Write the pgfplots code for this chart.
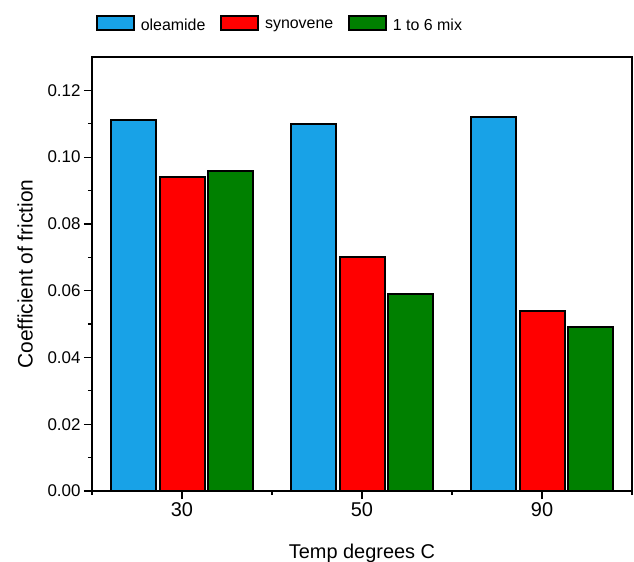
\documentclass[border=0pt]{standalone}
\usepackage{fontspec}
\setmainfont{Liberation Sans}
\usepackage{pgfplots}
\pgfplotsset{compat=1.18}
\definecolor{cblue}{RGB}{24,162,231}
\definecolor{cred}{RGB}{255,0,0}
\definecolor{cgreen}{RGB}{0,128,0}
\begin{document}
\begin{tikzpicture}
\path[use as bounding box] (0,0) rectangle (634bp,562bp);
\begin{axis}[
  at={(92bp,71bp)}, anchor=south west,
  width=540bp, height=434bp, scale only axis=true,
  xmin=0.5, xmax=3.5, ymin=0, ymax=0.13,
  axis line style={line width=1.4bp},
  every tick/.style={black, line width=1.2bp},
  tick align=outside,
  major tick length=8bp, minor tick length=4bp,
  xtick={1,2,3}, xticklabels={30,50,90},
  minor xtick={0.5,1.5,2.5,3.5},
  ytick={0,0.02,0.04,0.06,0.08,0.10,0.12},
  minor ytick={0.01,0.03,0.05,0.07,0.09,0.11},
  xtick pos=bottom, ytick pos=left,
  /pgf/number format/assume math mode=true,
  yticklabel style={font=\fontsize{17}{17}\selectfont, /pgf/number format/.cd, fixed, fixed zerofill, precision=2},
  xticklabel style={font=\fontsize{20}{20}\selectfont},
  scaled y ticks=false,
  xlabel={Temp degrees C},
  ylabel={Coefficient of friction},
  every axis x label/.style={at={(axis description cs:0.5,-0.1544)}, anchor=base, font=\fontsize{20}{20}\selectfont},
  every axis y label/.style={at={(axis description cs:-0.124,0.5)}, anchor=center, rotate=90, font=\fontsize{21}{21}\selectfont},
  ybar, bar width=0.25,
  legend columns=3,
  legend style={at={(axis description cs:0.0074,1.075)}, anchor=west, draw=none, fill=none,
    font=\fontsize{16}{16}\selectfont, inner sep=0pt,
    nodes={inner xsep=1bp},
    /tikz/every odd column/.append style={column sep=5bp},
    /tikz/every even column/.append style={column sep=14bp}},
  legend image code/.code={\draw[#1, line width=1.6bp] (0bp,-5bp) rectangle (37bp,9bp);},
]
\addplot[fill=cblue, draw=black, line width=2bp, bar shift=-0.27] coordinates {(1,0.111) (2,0.110) (3,0.112)};
\addplot[fill=cred, draw=black, line width=2bp, bar shift=0] coordinates {(1,0.094) (2,0.070) (3,0.054)};
\addplot[fill=cgreen, draw=black, line width=2bp, bar shift=0.27] coordinates {(1,0.096) (2,0.059) (3,0.049)};
\legend{oleamide, synovene, 1 to 6 mix}
\end{axis}
\end{tikzpicture}
\end{document}
